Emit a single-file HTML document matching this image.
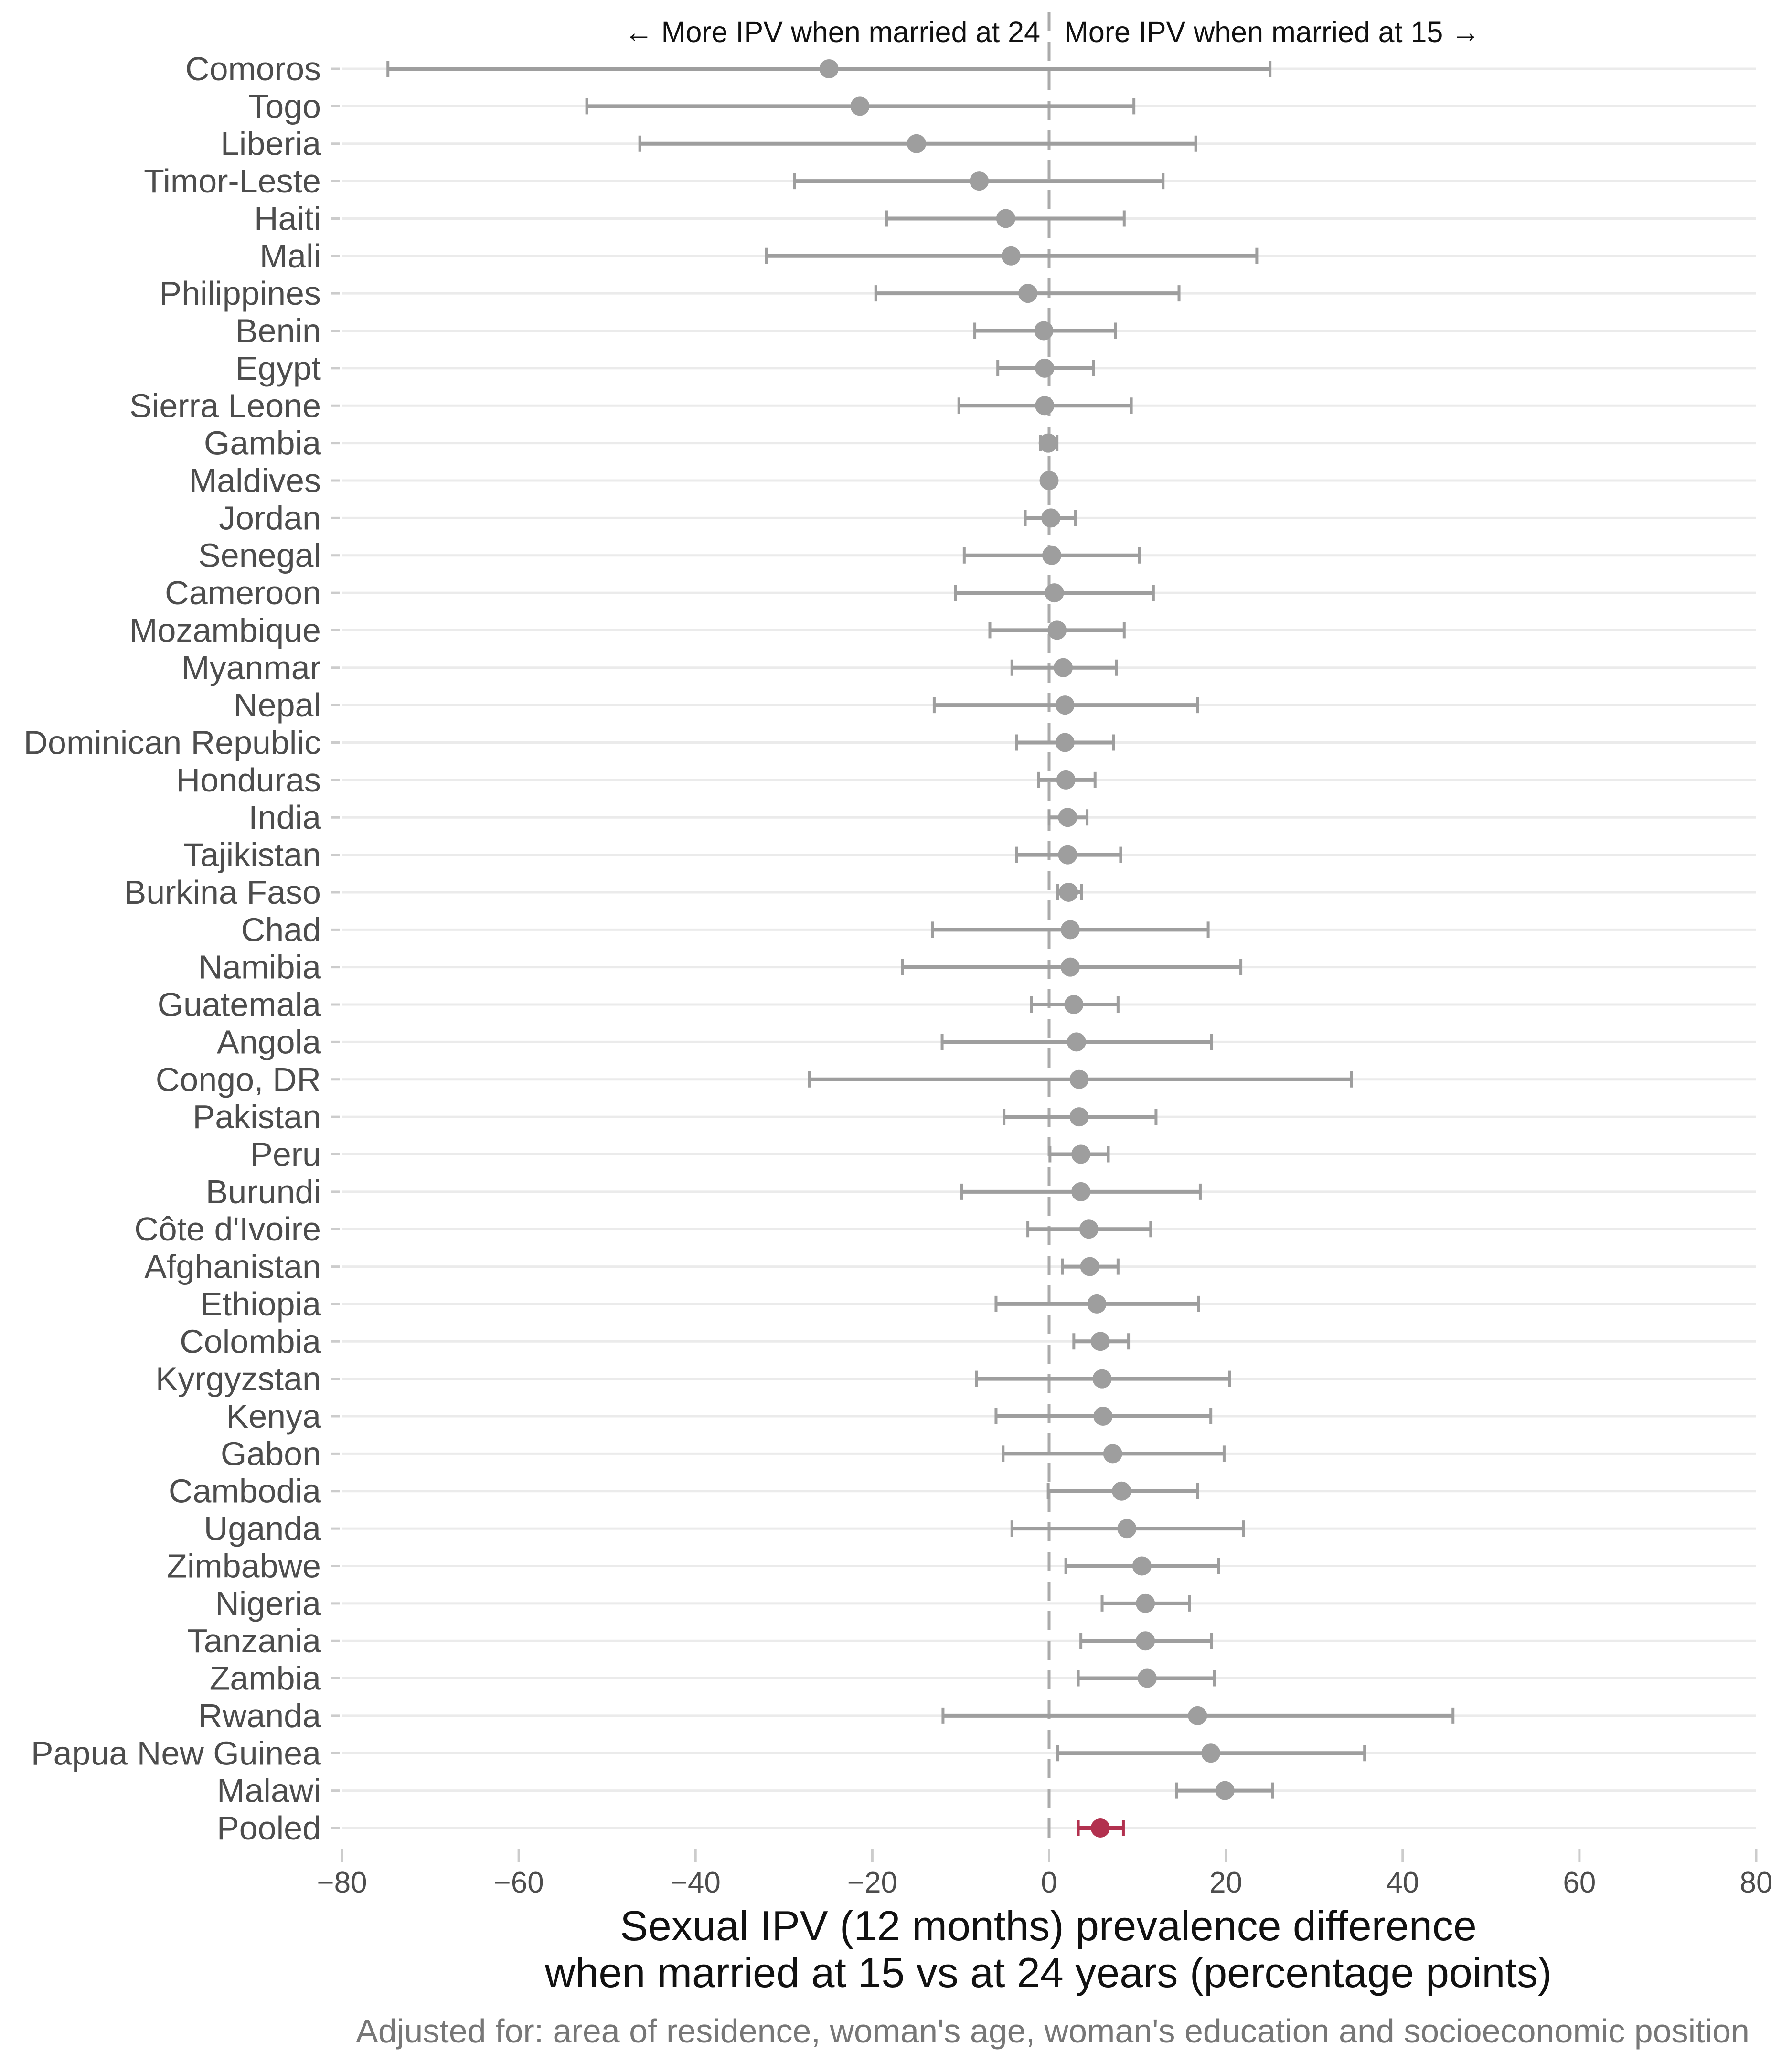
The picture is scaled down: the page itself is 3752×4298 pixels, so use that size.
<!DOCTYPE html>
<html><head><meta charset="utf-8"><style>
html,body{margin:0;padding:0;background:#fff;}
svg{display:block;font-family:"Liberation Sans",sans-serif;}
</style></head><body>
<svg id="chart" width="3752" height="4298" viewBox="0 0 3752 4298" xmlns="http://www.w3.org/2000/svg">
<rect width="3752" height="4298" fill="#fff"/>
<g id="grid"></g><g id="zero"></g><g id="marks"></g><g id="ylabels"></g><g id="xaxis"></g>
<text x="2178" y="88" text-anchor="end" font-size="61" fill="#111">← More IPV when married at 24</text>
<text x="2228" y="88" font-size="61" fill="#111">More IPV when married at 15 →</text>
<text x="2195" y="4062" text-anchor="middle" font-size="88" fill="#111">Sexual IPV (12 months) prevalence difference</text>
<text x="2195" y="4160" text-anchor="middle" font-size="88" fill="#111">when married at 15 vs at 24 years (percentage points)</text>
<text x="3663" y="4276" text-anchor="end" font-size="70" fill="#777">Adjusted for: area of residence, woman's age, woman's education and socioeconomic position</text>
</svg>
<script>
const countries=["Comoros","Togo","Liberia","Timor-Leste","Haiti","Mali","Philippines","Benin","Egypt","Sierra Leone","Gambia","Maldives","Jordan","Senegal","Cameroon","Mozambique","Myanmar","Nepal","Dominican Republic","Honduras","India","Tajikistan","Burkina Faso","Chad","Namibia","Guatemala","Angola","Congo, DR","Pakistan","Peru","Burundi","Côte d'Ivoire","Afghanistan","Ethiopia","Colombia","Kyrgyzstan","Kenya","Gabon","Cambodia","Uganda","Zimbabwe","Nigeria","Tanzania","Zambia","Rwanda","Papua New Guinea","Malawi","Pooled"];
const estimates=[-24.9,-21.4,-15,-7.9,-4.9,-4.3,-2.4,-0.6,-0.5,-0.5,-0.1,0,0.2,0.3,0.6,0.9,1.6,1.8,1.8,1.9,2.1,2.1,2.2,2.4,2.4,2.8,3.1,3.4,3.4,3.6,3.6,4.5,4.6,5.4,5.8,6,6.1,7.2,8.2,8.8,10.5,10.9,10.9,11.1,16.8,18.3,19.9,5.8];
const lower=[-74.8,-52.3,-46.3,-28.8,-18.4,-32,-19.6,-8.4,-5.8,-10.2,-1,0,-2.7,-9.6,-10.6,-6.7,-4.2,-13,-3.7,-1.2,0,-3.7,1,-13.2,-16.6,-2,-12.1,-27.1,-5.1,0.1,-9.9,-2.4,1.5,-6,2.8,-8.2,-6,-5.2,-0.1,-4.2,1.9,6,3.6,3.3,-12,1,14.4,3.3];
const upper=[25,9.6,16.6,12.9,8.5,23.5,14.7,7.5,5,9.3,0.9,0,3,10.2,11.8,8.5,7.6,16.8,7.3,5.2,4.3,8.1,3.7,18,21.7,7.8,18.4,34.2,12.1,6.7,17.1,11.5,7.8,16.9,9,20.4,18.3,19.8,16.8,22,19.2,15.9,18.4,18.7,45.7,35.7,25.3,8.4];
const xTicks=[-80,-60,-40,-20,0,20,40,60,80];
const NS="http://www.w3.org/2000/svg";
const X0=716,X1=3677,Y0=144,Y1=3827;
const xs=v=>X0+(v+80)/160*(X1-X0);
const ys=i=>Y0+i*(Y1-Y0)/(countries.length-1);
function mk(t,a,p){const e=document.createElementNS(NS,t);for(const k in a)e.setAttribute(k,a[k]);p.appendChild(e);return e;}
const grid=document.getElementById('grid'),marks=document.getElementById('marks'),yl=document.getElementById('ylabels'),xa=document.getElementById('xaxis'),zero=document.getElementById('zero');
countries.forEach((c,i)=>{
  const y=ys(i);
  const g=mk('line',{x1:X0,x2:X1,y1:y,y2:y,stroke:'#ebebeb','stroke-width':5},grid);
  
  
  const tk=mk('line',{x1:694,x2:711,y1:y,y2:y,stroke:'#ccc','stroke-width':5},grid);
  
  
  const t=mk('text',{x:672,y:y+24,'text-anchor':'end','font-size':70,fill:'#4d4d4d'},yl);
  t.textContent=c;
  
  
});
const zl=mk('line',{x1:xs(0),x2:xs(0),y1:25,y2:3860,stroke:'#aaa','stroke-width':6,'stroke-dasharray':'40 22'},zero);


countries.forEach((c,i)=>{
  const y=ys(i),col=i===countries.length-1?'#b2314f':'#9e9e9e';
  const g=mk('g',{},marks);
  
  
  mk('line',{x1:xs(lower[i]),x2:xs(upper[i]),y1:y,y2:y,stroke:col,'stroke-width':8},g);
  mk('line',{x1:xs(lower[i]),x2:xs(lower[i]),y1:y-17,y2:y+17,stroke:col,'stroke-width':6},g);
  mk('line',{x1:xs(upper[i]),x2:xs(upper[i]),y1:y-17,y2:y+17,stroke:col,'stroke-width':6},g);
  mk('circle',{cx:xs(estimates[i]),cy:y,r:20,fill:col},g);
});
xTicks.forEach(v=>{
  const x=xs(v);
  const l=mk('line',{x1:x,x2:x,y1:3870,y2:3898,stroke:'#ccc','stroke-width':5},xa);
  
  
  const t=mk('text',{x:x,y:3962,'text-anchor':'middle','font-size':62,fill:'#4d4d4d'},xa);
  t.textContent=v<0?'\u2212'+(-v):String(v);
  
  
});
</script>
</body></html>
